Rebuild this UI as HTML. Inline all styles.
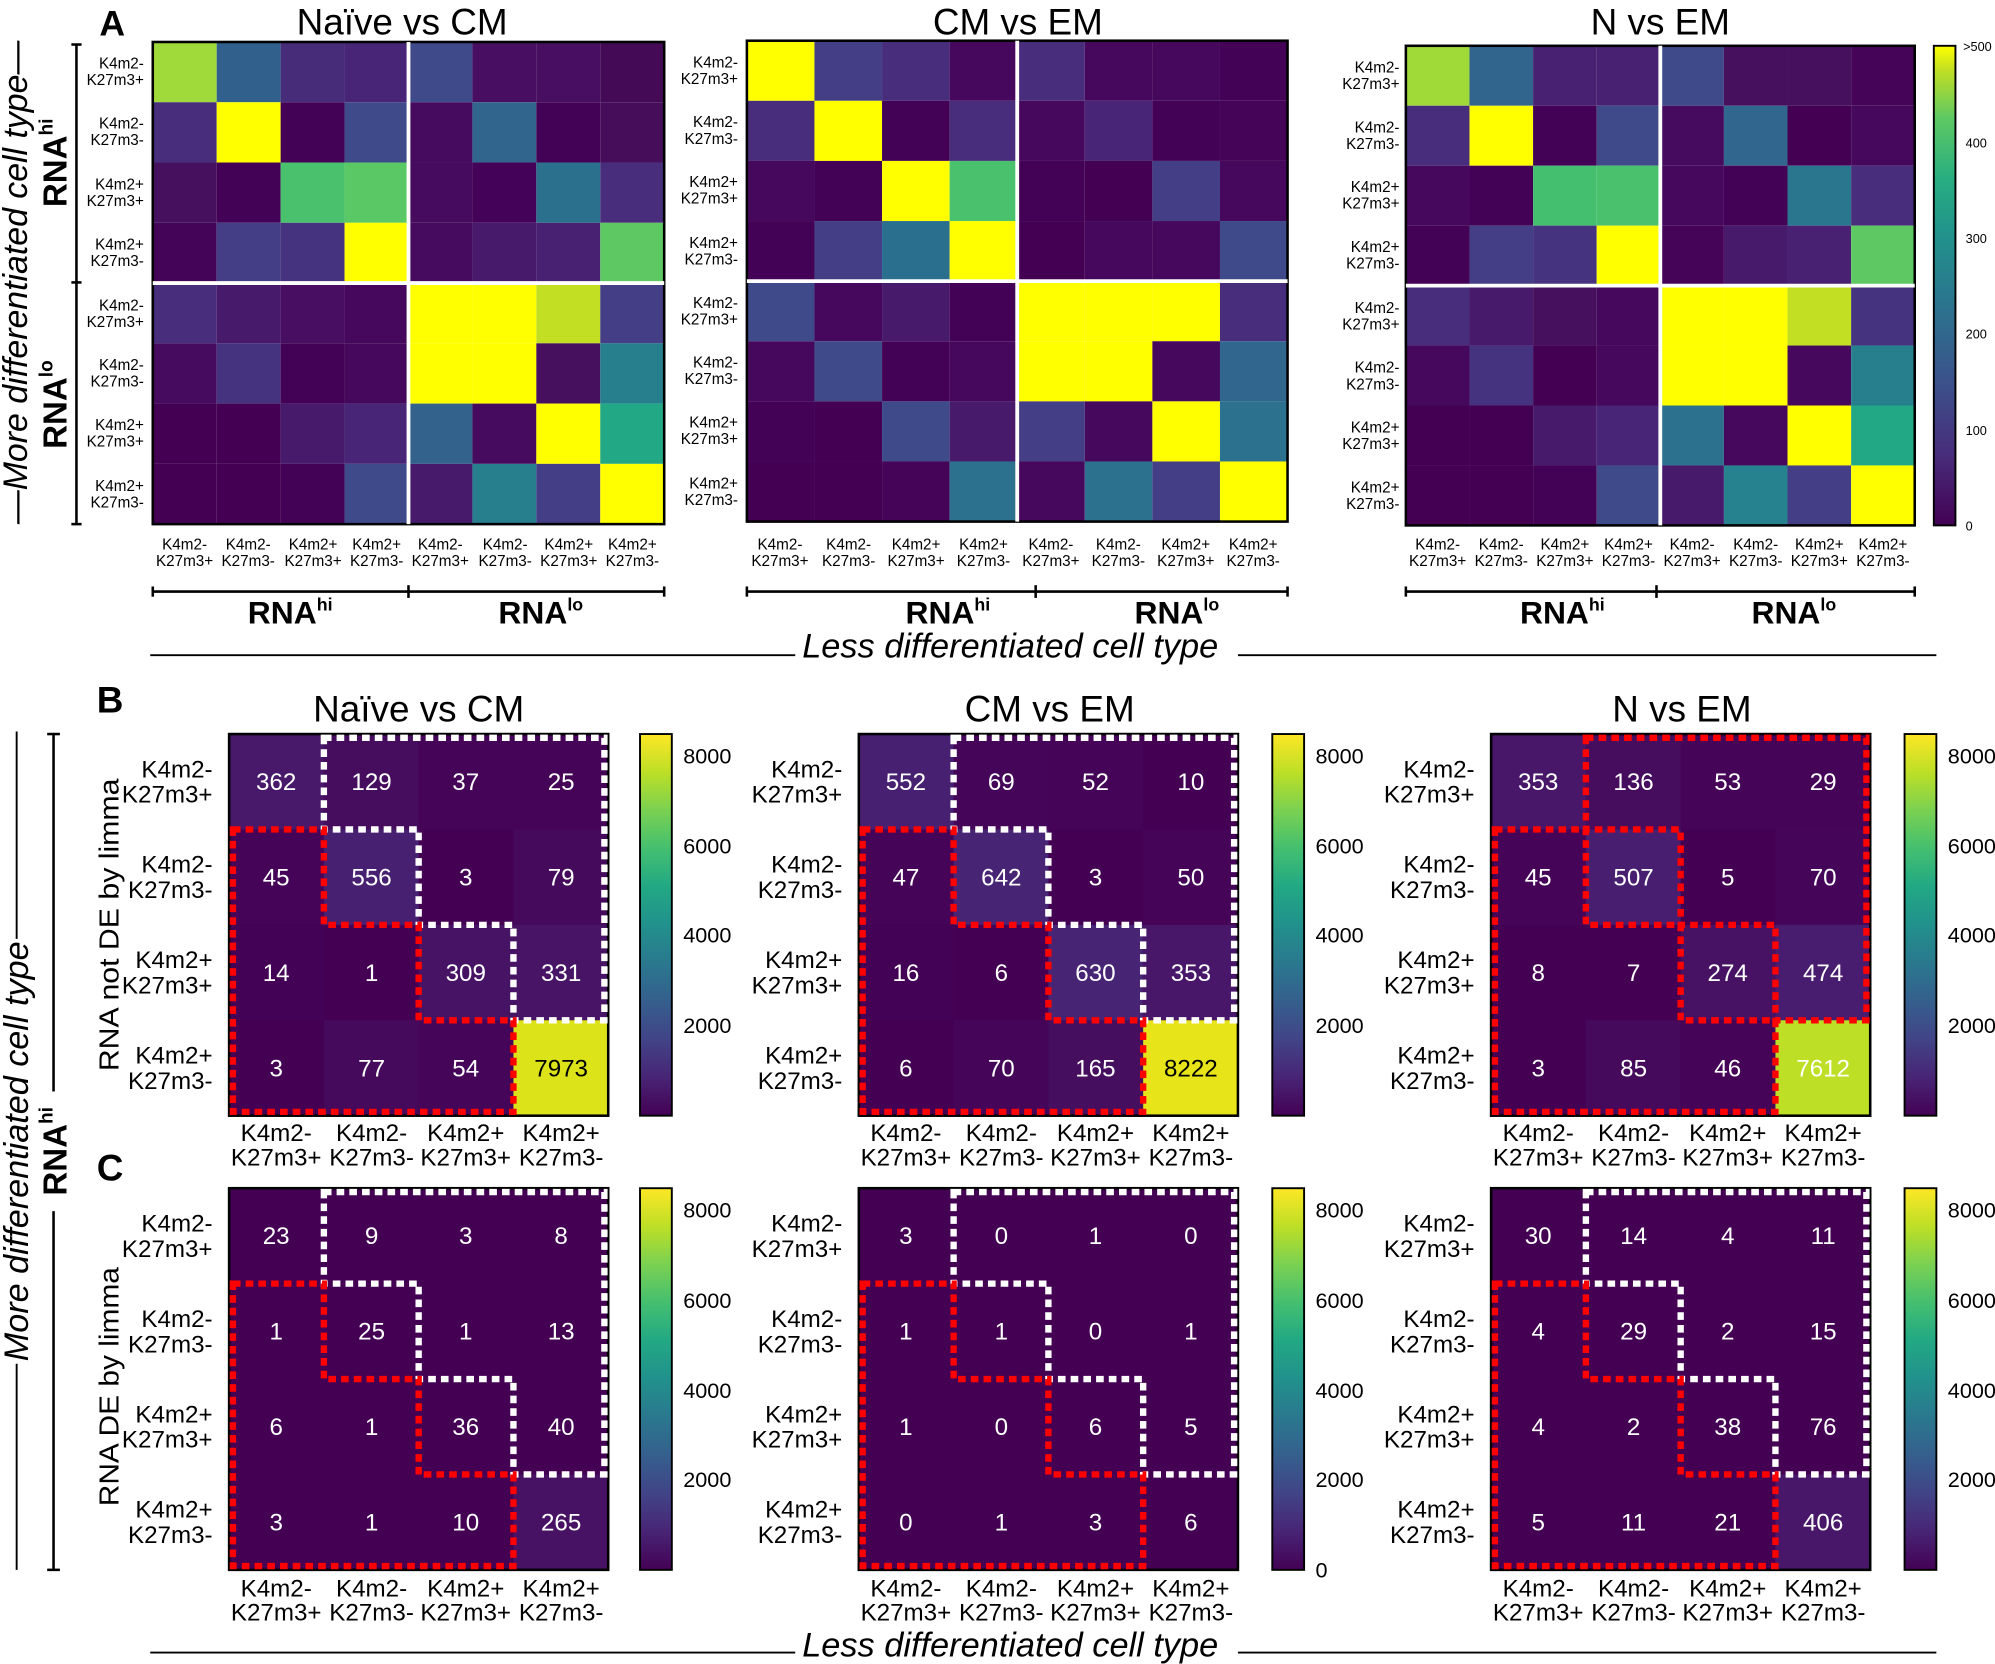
<!DOCTYPE html>
<html><head><meta charset="utf-8"><style>
body{margin:0;background:#fff}
svg{display:block}
text{font-family:"Liberation Sans",Arial,sans-serif;fill:#000}
.rl{font-size:12px;text-anchor:end}
.cl{font-size:12px;text-anchor:middle}
.rb{font-size:19px;text-anchor:end}
.cb{font-size:19px;text-anchor:middle}
.v text{font-size:19px;fill:#fff;text-anchor:middle}
.v text.k{fill:#000}
.ti{font-size:29px;text-anchor:middle}
.it{font-size:27px;font-style:italic}
.bd{font-weight:bold}
.ct{font-size:17px}
</style></head><body>
<svg width="1995" height="1664" viewBox="0 0 1568 1308" xmlns="http://www.w3.org/2000/svg">
<defs>
<linearGradient id="vir" x1="0" y1="1" x2="0" y2="0">
<stop offset="0" stop-color="#440154"/><stop offset=".1" stop-color="#482475"/><stop offset=".2" stop-color="#414487"/><stop offset=".3" stop-color="#355f8d"/><stop offset=".4" stop-color="#2a788e"/><stop offset=".5" stop-color="#21918c"/><stop offset=".6" stop-color="#22a884"/><stop offset=".7" stop-color="#44bf70"/><stop offset=".8" stop-color="#7ad151"/><stop offset=".9" stop-color="#bddf26"/><stop offset="1" stop-color="#fde725"/>
</linearGradient>
<linearGradient id="virA" x1="0" y1="1" x2="0" y2="0">
<stop offset="0" stop-color="#440154"/><stop offset=".15" stop-color="#472d7b"/><stop offset=".3" stop-color="#3b528b"/><stop offset=".45" stop-color="#2c728e"/><stop offset=".6" stop-color="#21918c"/><stop offset=".72" stop-color="#27ad81"/><stop offset=".85" stop-color="#5ec962"/><stop offset=".95" stop-color="#c2df23"/><stop offset="1" stop-color="#ffff00"/>
</linearGradient>
</defs>

<!-- ===== PANEL A ===== -->
<text x="78" y="28" class="bd" font-size="28">A</text>
<text x="316" y="27" class="ti">Naïve vs CM</text>
<text x="800" y="27" class="ti">CM vs EM</text>
<text x="1305" y="27" class="ti">N vs EM</text>

<!-- A1 -->
<g transform="translate(120,33) scale(50.25,47.375)">
<rect x="0" y="0" width="1" height="1" fill="#9fda3a"/><rect x="1" y="0" width="1" height="1" fill="#31608d"/><rect x="2" y="0" width="1" height="1" fill="#472c7a"/><rect x="3" y="0" width="1" height="1" fill="#482576"/><rect x="4" y="0" width="1" height="1" fill="#3e4a89"/><rect x="5" y="0" width="1" height="1" fill="#470e61"/><rect x="6" y="0" width="1" height="1" fill="#470e61"/><rect x="7" y="0" width="1" height="1" fill="#440a56"/>
<rect x="0" y="1" width="1" height="1" fill="#472d7b"/><rect x="1" y="1" width="1" height="1" fill="#ffff00"/><rect x="2" y="1" width="1" height="1" fill="#440256"/><rect x="3" y="1" width="1" height="1" fill="#3e4a89"/><rect x="4" y="1" width="1" height="1" fill="#460b5e"/><rect x="5" y="1" width="1" height="1" fill="#31658e"/><rect x="6" y="1" width="1" height="1" fill="#440256"/><rect x="7" y="1" width="1" height="1" fill="#450d5a"/>
<rect x="0" y="2" width="1" height="1" fill="#46105f"/><rect x="1" y="2" width="1" height="1" fill="#440256"/><rect x="2" y="2" width="1" height="1" fill="#4ac16d"/><rect x="3" y="2" width="1" height="1" fill="#5ac864"/><rect x="4" y="2" width="1" height="1" fill="#460b5e"/><rect x="5" y="2" width="1" height="1" fill="#440358"/><rect x="6" y="2" width="1" height="1" fill="#2b718e"/><rect x="7" y="2" width="1" height="1" fill="#472d7b"/>
<rect x="0" y="3" width="1" height="1" fill="#440558"/><rect x="1" y="3" width="1" height="1" fill="#433e85"/><rect x="2" y="3" width="1" height="1" fill="#46337f"/><rect x="3" y="3" width="1" height="1" fill="#ffff00"/><rect x="4" y="3" width="1" height="1" fill="#460b5e"/><rect x="5" y="3" width="1" height="1" fill="#481a6c"/><rect x="6" y="3" width="1" height="1" fill="#482173"/><rect x="7" y="3" width="1" height="1" fill="#5ec962"/>
<rect x="0" y="4" width="1" height="1" fill="#472d7b"/><rect x="1" y="4" width="1" height="1" fill="#481a6c"/><rect x="2" y="4" width="1" height="1" fill="#470e61"/><rect x="3" y="4" width="1" height="1" fill="#46085c"/><rect x="4" y="4" width="1" height="1" fill="#ffff00"/><rect x="5" y="4" width="1" height="1" fill="#ffff00"/><rect x="6" y="4" width="1" height="1" fill="#c2df23"/><rect x="7" y="4" width="1" height="1" fill="#433e85"/>
<rect x="0" y="5" width="1" height="1" fill="#460b5e"/><rect x="1" y="5" width="1" height="1" fill="#46337f"/><rect x="2" y="5" width="1" height="1" fill="#440256"/><rect x="3" y="5" width="1" height="1" fill="#46085c"/><rect x="4" y="5" width="1" height="1" fill="#ffff00"/><rect x="5" y="5" width="1" height="1" fill="#ffff00"/><rect x="6" y="5" width="1" height="1" fill="#46105f"/><rect x="7" y="5" width="1" height="1" fill="#277f8e"/>
<rect x="0" y="6" width="1" height="1" fill="#440154"/><rect x="1" y="6" width="1" height="1" fill="#440154"/><rect x="2" y="6" width="1" height="1" fill="#481a6c"/><rect x="3" y="6" width="1" height="1" fill="#482576"/><rect x="4" y="6" width="1" height="1" fill="#33628d"/><rect x="5" y="6" width="1" height="1" fill="#460b5e"/><rect x="6" y="6" width="1" height="1" fill="#ffff00"/><rect x="7" y="6" width="1" height="1" fill="#22a884"/>
<rect x="0" y="7" width="1" height="1" fill="#440154"/><rect x="1" y="7" width="1" height="1" fill="#440154"/><rect x="2" y="7" width="1" height="1" fill="#440256"/><rect x="3" y="7" width="1" height="1" fill="#3e4a89"/><rect x="4" y="7" width="1" height="1" fill="#481a6c"/><rect x="5" y="7" width="1" height="1" fill="#277f8e"/><rect x="6" y="7" width="1" height="1" fill="#433e85"/><rect x="7" y="7" width="1" height="1" fill="#ffff00"/>
</g>
<rect x="120" y="33" width="402" height="379" fill="none" stroke="#000" stroke-width="2"/>
<line x1="321" y1="33" x2="321" y2="412" stroke="#fff" stroke-width="3"/>
<line x1="120" y1="222.5" x2="522" y2="222.5" stroke="#fff" stroke-width="3"/>

<!-- A2 -->
<g transform="translate(587,32) scale(53.125,47.25)">
<rect x="0" y="0" width="1" height="1" fill="#ffff00"/><rect x="1" y="0" width="1" height="1" fill="#433e85"/><rect x="2" y="0" width="1" height="1" fill="#472d7b"/><rect x="3" y="0" width="1" height="1" fill="#46085c"/><rect x="4" y="0" width="1" height="1" fill="#472d7b"/><rect x="5" y="0" width="1" height="1" fill="#46085c"/><rect x="6" y="0" width="1" height="1" fill="#46085c"/><rect x="7" y="0" width="1" height="1" fill="#440256"/>
<rect x="0" y="1" width="1" height="1" fill="#472d7b"/><rect x="1" y="1" width="1" height="1" fill="#ffff00"/><rect x="2" y="1" width="1" height="1" fill="#440256"/><rect x="3" y="1" width="1" height="1" fill="#472d7b"/><rect x="4" y="1" width="1" height="1" fill="#46085c"/><rect x="5" y="1" width="1" height="1" fill="#482576"/><rect x="6" y="1" width="1" height="1" fill="#440256"/><rect x="7" y="1" width="1" height="1" fill="#450457"/>
<rect x="0" y="2" width="1" height="1" fill="#46085c"/><rect x="1" y="2" width="1" height="1" fill="#440256"/><rect x="2" y="2" width="1" height="1" fill="#ffff00"/><rect x="3" y="2" width="1" height="1" fill="#4ac16d"/><rect x="4" y="2" width="1" height="1" fill="#440256"/><rect x="5" y="2" width="1" height="1" fill="#440154"/><rect x="6" y="2" width="1" height="1" fill="#433e85"/><rect x="7" y="2" width="1" height="1" fill="#46085c"/>
<rect x="0" y="3" width="1" height="1" fill="#440256"/><rect x="1" y="3" width="1" height="1" fill="#433e85"/><rect x="2" y="3" width="1" height="1" fill="#2a6f8e"/><rect x="3" y="3" width="1" height="1" fill="#ffff00"/><rect x="4" y="3" width="1" height="1" fill="#440154"/><rect x="5" y="3" width="1" height="1" fill="#46085c"/><rect x="6" y="3" width="1" height="1" fill="#46085c"/><rect x="7" y="3" width="1" height="1" fill="#3e4a89"/>
<rect x="0" y="4" width="1" height="1" fill="#3e4a89"/><rect x="1" y="4" width="1" height="1" fill="#46085c"/><rect x="2" y="4" width="1" height="1" fill="#481a6c"/><rect x="3" y="4" width="1" height="1" fill="#440256"/><rect x="4" y="4" width="1" height="1" fill="#ffff00"/><rect x="5" y="4" width="1" height="1" fill="#ffff00"/><rect x="6" y="4" width="1" height="1" fill="#ffff00"/><rect x="7" y="4" width="1" height="1" fill="#472d7b"/>
<rect x="0" y="5" width="1" height="1" fill="#46085c"/><rect x="1" y="5" width="1" height="1" fill="#3e4a89"/><rect x="2" y="5" width="1" height="1" fill="#440256"/><rect x="3" y="5" width="1" height="1" fill="#46085c"/><rect x="4" y="5" width="1" height="1" fill="#ffff00"/><rect x="5" y="5" width="1" height="1" fill="#ffff00"/><rect x="6" y="5" width="1" height="1" fill="#46085c"/><rect x="7" y="5" width="1" height="1" fill="#31668e"/>
<rect x="0" y="6" width="1" height="1" fill="#440256"/><rect x="1" y="6" width="1" height="1" fill="#440154"/><rect x="2" y="6" width="1" height="1" fill="#3e4a89"/><rect x="3" y="6" width="1" height="1" fill="#481a6c"/><rect x="4" y="6" width="1" height="1" fill="#433e85"/><rect x="5" y="6" width="1" height="1" fill="#46085c"/><rect x="6" y="6" width="1" height="1" fill="#ffff00"/><rect x="7" y="6" width="1" height="1" fill="#2c728e"/>
<rect x="0" y="7" width="1" height="1" fill="#440154"/><rect x="1" y="7" width="1" height="1" fill="#440154"/><rect x="2" y="7" width="1" height="1" fill="#450457"/><rect x="3" y="7" width="1" height="1" fill="#2c728e"/><rect x="4" y="7" width="1" height="1" fill="#46085c"/><rect x="5" y="7" width="1" height="1" fill="#2c728e"/><rect x="6" y="7" width="1" height="1" fill="#433e85"/><rect x="7" y="7" width="1" height="1" fill="#ffff00"/>
</g>
<rect x="587" y="32" width="425" height="378" fill="none" stroke="#000" stroke-width="2"/>
<line x1="799.5" y1="32" x2="799.5" y2="410" stroke="#fff" stroke-width="3"/>
<line x1="587" y1="221" x2="1012" y2="221" stroke="#fff" stroke-width="3"/>

<!-- A3 -->
<g transform="translate(1105,36) scale(50,47.125)">
<rect x="0" y="0" width="1" height="1" fill="#a0da39"/><rect x="1" y="0" width="1" height="1" fill="#31658e"/><rect x="2" y="0" width="1" height="1" fill="#482173"/><rect x="3" y="0" width="1" height="1" fill="#482173"/><rect x="4" y="0" width="1" height="1" fill="#3e4a89"/><rect x="5" y="0" width="1" height="1" fill="#46105f"/><rect x="6" y="0" width="1" height="1" fill="#46105f"/><rect x="7" y="0" width="1" height="1" fill="#450457"/>
<rect x="0" y="1" width="1" height="1" fill="#472d7b"/><rect x="1" y="1" width="1" height="1" fill="#ffff00"/><rect x="2" y="1" width="1" height="1" fill="#440256"/><rect x="3" y="1" width="1" height="1" fill="#3e4a89"/><rect x="4" y="1" width="1" height="1" fill="#460b5e"/><rect x="5" y="1" width="1" height="1" fill="#31668e"/><rect x="6" y="1" width="1" height="1" fill="#440154"/><rect x="7" y="1" width="1" height="1" fill="#46085c"/>
<rect x="0" y="2" width="1" height="1" fill="#46085c"/><rect x="1" y="2" width="1" height="1" fill="#440256"/><rect x="2" y="2" width="1" height="1" fill="#44bf70"/><rect x="3" y="2" width="1" height="1" fill="#4ac16d"/><rect x="4" y="2" width="1" height="1" fill="#46085c"/><rect x="5" y="2" width="1" height="1" fill="#440256"/><rect x="6" y="2" width="1" height="1" fill="#2a768e"/><rect x="7" y="2" width="1" height="1" fill="#472d7b"/>
<rect x="0" y="3" width="1" height="1" fill="#440256"/><rect x="1" y="3" width="1" height="1" fill="#433e85"/><rect x="2" y="3" width="1" height="1" fill="#46337f"/><rect x="3" y="3" width="1" height="1" fill="#ffff00"/><rect x="4" y="3" width="1" height="1" fill="#450457"/><rect x="5" y="3" width="1" height="1" fill="#481a6c"/><rect x="6" y="3" width="1" height="1" fill="#482173"/><rect x="7" y="3" width="1" height="1" fill="#5ec962"/>
<rect x="0" y="4" width="1" height="1" fill="#472d7b"/><rect x="1" y="4" width="1" height="1" fill="#481a6c"/><rect x="2" y="4" width="1" height="1" fill="#46105f"/><rect x="3" y="4" width="1" height="1" fill="#46085c"/><rect x="4" y="4" width="1" height="1" fill="#ffff00"/><rect x="5" y="4" width="1" height="1" fill="#ffff00"/><rect x="6" y="4" width="1" height="1" fill="#c2df23"/><rect x="7" y="4" width="1" height="1" fill="#46337f"/>
<rect x="0" y="5" width="1" height="1" fill="#46085c"/><rect x="1" y="5" width="1" height="1" fill="#46337f"/><rect x="2" y="5" width="1" height="1" fill="#440154"/><rect x="3" y="5" width="1" height="1" fill="#46085c"/><rect x="4" y="5" width="1" height="1" fill="#ffff00"/><rect x="5" y="5" width="1" height="1" fill="#ffff00"/><rect x="6" y="5" width="1" height="1" fill="#46085c"/><rect x="7" y="5" width="1" height="1" fill="#277f8e"/>
<rect x="0" y="6" width="1" height="1" fill="#440154"/><rect x="1" y="6" width="1" height="1" fill="#440154"/><rect x="2" y="6" width="1" height="1" fill="#481a6c"/><rect x="3" y="6" width="1" height="1" fill="#482576"/><rect x="4" y="6" width="1" height="1" fill="#2c718e"/><rect x="5" y="6" width="1" height="1" fill="#46085c"/><rect x="6" y="6" width="1" height="1" fill="#ffff00"/><rect x="7" y="6" width="1" height="1" fill="#22a884"/>
<rect x="0" y="7" width="1" height="1" fill="#440154"/><rect x="1" y="7" width="1" height="1" fill="#440154"/><rect x="2" y="7" width="1" height="1" fill="#440256"/><rect x="3" y="7" width="1" height="1" fill="#3e4a89"/><rect x="4" y="7" width="1" height="1" fill="#481a6c"/><rect x="5" y="7" width="1" height="1" fill="#26828e"/><rect x="6" y="7" width="1" height="1" fill="#433e85"/><rect x="7" y="7" width="1" height="1" fill="#ffff00"/>
</g>
<rect x="1105" y="36" width="400" height="377" fill="none" stroke="#000" stroke-width="2"/>
<line x1="1305" y1="36" x2="1305" y2="413" stroke="#fff" stroke-width="3"/>
<line x1="1105" y1="224.5" x2="1505" y2="224.5" stroke="#fff" stroke-width="3"/>

<!-- A colorbar -->
<rect x="1520" y="36" width="17" height="377" fill="url(#virA)" stroke="#000" stroke-width="1.5"/>
<g font-size="10">
<text x="1543" y="40">&gt;500</text><text x="1545" y="116">400</text><text x="1545" y="191">300</text><text x="1545" y="266">200</text><text x="1545" y="342">100</text><text x="1545" y="417">0</text>
</g>

<!-- A row labels -->
<g class="rl">
<text x="113" y="54">K4m2-</text><text x="113" y="67">K27m3+</text>
<text x="113" y="101">K4m2-</text><text x="113" y="114">K27m3-</text>
<text x="113" y="149">K4m2+</text><text x="113" y="162">K27m3+</text>
<text x="113" y="196">K4m2+</text><text x="113" y="209">K27m3-</text>
<text x="113" y="244">K4m2-</text><text x="113" y="257">K27m3+</text>
<text x="113" y="291">K4m2-</text><text x="113" y="304">K27m3-</text>
<text x="113" y="338">K4m2+</text><text x="113" y="351">K27m3+</text>
<text x="113" y="386">K4m2+</text><text x="113" y="399">K27m3-</text>

<text x="580" y="53">K4m2-</text><text x="580" y="66">K27m3+</text>
<text x="580" y="100">K4m2-</text><text x="580" y="113">K27m3-</text>
<text x="580" y="147">K4m2+</text><text x="580" y="160">K27m3+</text>
<text x="580" y="195">K4m2+</text><text x="580" y="208">K27m3-</text>
<text x="580" y="242">K4m2-</text><text x="580" y="255">K27m3+</text>
<text x="580" y="289">K4m2-</text><text x="580" y="302">K27m3-</text>
<text x="580" y="336">K4m2+</text><text x="580" y="349">K27m3+</text>
<text x="580" y="384">K4m2+</text><text x="580" y="397">K27m3-</text>

<text x="1100" y="57">K4m2-</text><text x="1100" y="70">K27m3+</text>
<text x="1100" y="104">K4m2-</text><text x="1100" y="117">K27m3-</text>
<text x="1100" y="151">K4m2+</text><text x="1100" y="164">K27m3+</text>
<text x="1100" y="198">K4m2+</text><text x="1100" y="211">K27m3-</text>
<text x="1100" y="246">K4m2-</text><text x="1100" y="259">K27m3+</text>
<text x="1100" y="293">K4m2-</text><text x="1100" y="306">K27m3-</text>
<text x="1100" y="340">K4m2+</text><text x="1100" y="353">K27m3+</text>
<text x="1100" y="387">K4m2+</text><text x="1100" y="400">K27m3-</text>
</g>

<!-- A column labels -->
<g class="cl">
<text x="145" y="432">K4m2-</text><text x="145" y="445">K27m3+</text>
<text x="195" y="432">K4m2-</text><text x="195" y="445">K27m3-</text>
<text x="246" y="432">K4m2+</text><text x="246" y="445">K27m3+</text>
<text x="296" y="432">K4m2+</text><text x="296" y="445">K27m3-</text>
<text x="346" y="432">K4m2-</text><text x="346" y="445">K27m3+</text>
<text x="397" y="432">K4m2-</text><text x="397" y="445">K27m3-</text>
<text x="447" y="432">K4m2+</text><text x="447" y="445">K27m3+</text>
<text x="497" y="432">K4m2+</text><text x="497" y="445">K27m3-</text>

<text x="613" y="432">K4m2-</text><text x="613" y="445">K27m3+</text>
<text x="667" y="432">K4m2-</text><text x="667" y="445">K27m3-</text>
<text x="720" y="432">K4m2+</text><text x="720" y="445">K27m3+</text>
<text x="773" y="432">K4m2+</text><text x="773" y="445">K27m3-</text>
<text x="826" y="432">K4m2-</text><text x="826" y="445">K27m3+</text>
<text x="879" y="432">K4m2-</text><text x="879" y="445">K27m3-</text>
<text x="932" y="432">K4m2+</text><text x="932" y="445">K27m3+</text>
<text x="985" y="432">K4m2+</text><text x="985" y="445">K27m3-</text>

<text x="1130" y="432">K4m2-</text><text x="1130" y="445">K27m3+</text>
<text x="1180" y="432">K4m2-</text><text x="1180" y="445">K27m3-</text>
<text x="1230" y="432">K4m2+</text><text x="1230" y="445">K27m3+</text>
<text x="1280" y="432">K4m2+</text><text x="1280" y="445">K27m3-</text>
<text x="1330" y="432">K4m2-</text><text x="1330" y="445">K27m3+</text>
<text x="1380" y="432">K4m2-</text><text x="1380" y="445">K27m3-</text>
<text x="1430" y="432">K4m2+</text><text x="1430" y="445">K27m3+</text>
<text x="1480" y="432">K4m2+</text><text x="1480" y="445">K27m3-</text>
</g>

<!-- A brackets bottom -->
<g stroke="#000" stroke-width="2">
<line x1="120" y1="465" x2="522" y2="465"/><line x1="120" y1="461" x2="120" y2="469"/><line x1="321" y1="460" x2="321" y2="470"/><line x1="522" y1="461" x2="522" y2="469"/>
<line x1="587" y1="465" x2="1012" y2="465"/><line x1="587" y1="461" x2="587" y2="469"/><line x1="814" y1="460" x2="814" y2="470"/><line x1="1012" y1="461" x2="1012" y2="469"/>
<line x1="1105" y1="465" x2="1505" y2="465"/><line x1="1105" y1="461" x2="1105" y2="469"/><line x1="1302" y1="460" x2="1302" y2="470"/><line x1="1505" y1="461" x2="1505" y2="469"/>
</g>
<g class="bd" font-size="25" text-anchor="middle">
<text x="228" y="490">RNA<tspan font-size="14" dy="-10">hi</tspan></text>
<text x="425" y="490">RNA<tspan font-size="14" dy="-10">lo</tspan></text>
<text x="745" y="490">RNA<tspan font-size="14" dy="-10">hi</tspan></text>
<text x="925" y="490">RNA<tspan font-size="14" dy="-10">lo</tspan></text>
<text x="1228" y="490">RNA<tspan font-size="14" dy="-10">hi</tspan></text>
<text x="1410" y="490">RNA<tspan font-size="14" dy="-10">lo</tspan></text>
</g>
<text x="794" y="517" class="it" text-anchor="middle">Less differentiated cell type</text>
<line x1="118" y1="515" x2="625" y2="515" stroke="#000" stroke-width="1.5"/>
<line x1="973" y1="515" x2="1522" y2="515" stroke="#000" stroke-width="1.5"/>

<!-- A left labels -->
<text transform="translate(21,222) rotate(-90)" class="it" font-size="25" text-anchor="middle" textLength="380" lengthAdjust="spacingAndGlyphs">—More differentiated cell type—</text>
<text transform="translate(52,128) rotate(-90)" class="bd" font-size="26" text-anchor="middle">RNA<tspan font-size="15" dy="-11">hi</tspan></text>
<text transform="translate(52,318) rotate(-90)" class="bd" font-size="26" text-anchor="middle">RNA<tspan font-size="15" dy="-11">lo</tspan></text>
<g stroke="#000" stroke-width="2">
<line x1="60" y1="35" x2="60" y2="412"/><line x1="56" y1="35" x2="64" y2="35"/><line x1="56" y1="222" x2="64" y2="222"/><line x1="56" y1="412" x2="64" y2="412"/>
</g>

<!-- ===== PANEL B / C ===== -->
<text x="76" y="560" class="bd" font-size="29">B</text>
<text x="76" y="928" class="bd" font-size="29">C</text>
<text x="329" y="567" class="ti">Naïve vs CM</text>
<text x="825" y="567" class="ti">CM vs EM</text>
<text x="1322" y="567" class="ti">N vs EM</text>

<!-- B1 -->
<g transform="translate(180,577) scale(74.5,75)">
<rect width="4" height="4" fill="#440154"/>
<rect x="0" y="0" width="1" height="1" fill="#48186a"/><rect x="1" y="0" width="1" height="1" fill="#460d5f"/><rect x="2" y="0" width="1" height="1" fill="#450457"/><rect x="3" y="0" width="1" height="1" fill="#450457"/>
<rect x="0" y="1" width="1" height="1" fill="#450457"/><rect x="1" y="1" width="1" height="1" fill="#482071"/><rect x="3" y="1" width="1" height="1" fill="#450a5c"/>
<rect x="0" y="2" width="1" height="1" fill="#440256"/><rect x="2" y="2" width="1" height="1" fill="#471365"/><rect x="3" y="2" width="1" height="1" fill="#471466"/>
<rect x="1" y="3" width="1" height="1" fill="#450a5c"/><rect x="2" y="3" width="1" height="1" fill="#45065a"/><rect x="3" y="3" width="1" height="1" fill="#dce319"/>
</g>
<!-- B2 -->
<g transform="translate(675,577) scale(74.5,75)">
<rect width="4" height="4" fill="#440154"/>
<rect x="0" y="0" width="1" height="1" fill="#482071"/><rect x="1" y="0" width="1" height="1" fill="#45065a"/><rect x="2" y="0" width="1" height="1" fill="#450457"/>
<rect x="0" y="1" width="1" height="1" fill="#450457"/><rect x="1" y="1" width="1" height="1" fill="#482475"/><rect x="3" y="1" width="1" height="1" fill="#450457"/>
<rect x="0" y="2" width="1" height="1" fill="#440256"/><rect x="2" y="2" width="1" height="1" fill="#482475"/><rect x="3" y="2" width="1" height="1" fill="#481769"/>
<rect x="1" y="3" width="1" height="1" fill="#45065a"/><rect x="2" y="3" width="1" height="1" fill="#460e5f"/><rect x="3" y="3" width="1" height="1" fill="#e7e419"/>
</g>
<!-- B3 -->
<g transform="translate(1172,577) scale(74.5,75)">
<rect width="4" height="4" fill="#440154"/>
<rect x="0" y="0" width="1" height="1" fill="#481769"/><rect x="1" y="0" width="1" height="1" fill="#460d5f"/><rect x="2" y="0" width="1" height="1" fill="#450457"/><rect x="3" y="0" width="1" height="1" fill="#450457"/>
<rect x="0" y="1" width="1" height="1" fill="#450457"/><rect x="1" y="1" width="1" height="1" fill="#481e70"/><rect x="3" y="1" width="1" height="1" fill="#45065a"/>
<rect x="2" y="2" width="1" height="1" fill="#471164"/><rect x="3" y="2" width="1" height="1" fill="#481c6e"/>
<rect x="1" y="3" width="1" height="1" fill="#450a5c"/><rect x="2" y="3" width="1" height="1" fill="#450457"/><rect x="3" y="3" width="1" height="1" fill="#bddf26"/>
</g>
<!-- C -->
<rect x="180" y="934" width="298" height="300" fill="#440154"/>
<rect x="403.5" y="1159" width="74.5" height="75" fill="#471164"/>
<rect x="675" y="934" width="298" height="300" fill="#440154"/>
<rect x="1172" y="934" width="298" height="300" fill="#440154"/>
<rect x="1395.5" y="1159" width="74.5" height="75" fill="#481769"/>

<g fill="none" stroke="#000" stroke-width="2">
<rect x="180" y="577" width="298" height="300"/><rect x="675" y="577" width="298" height="300"/><rect x="1172" y="577" width="298" height="300"/>
<rect x="180" y="934" width="298" height="300"/><rect x="675" y="934" width="298" height="300"/><rect x="1172" y="934" width="298" height="300"/>
</g>

<!-- dotted outlines -->
<g fill="none" stroke-width="5" stroke-dasharray="6,4">
<path d="M254.5,580 H475 V802 H403.5 V727 H329 V652 H254.5 Z" stroke="#fff"/>
<path d="M183,652 H254.5 V727 H329 V802 H403.5 V874 H183 Z" stroke="#f00"/>
<path d="M749.5,580 H970 V802 H898.5 V727 H824 V652 H749.5 Z" stroke="#fff"/>
<path d="M678,652 H749.5 V727 H824 V802 H898.5 V874 H678 Z" stroke="#f00"/>
<path d="M1246.5,580 H1467 V802 H1395.5 V727 H1321 V652 H1246.5 Z" stroke="#f00"/>
<path d="M1175,652 H1246.5 V727 H1321 V802 H1395.5 V874 H1175 Z" stroke="#f00"/>

<path d="M254.5,937 H475 V1159 H403.5 V1084 H329 V1009 H254.5 Z" stroke="#fff"/>
<path d="M183,1009 H254.5 V1084 H329 V1159 H403.5 V1231 H183 Z" stroke="#f00"/>
<path d="M749.5,937 H970 V1159 H898.5 V1084 H824 V1009 H749.5 Z" stroke="#fff"/>
<path d="M678,1009 H749.5 V1084 H824 V1159 H898.5 V1231 H678 Z" stroke="#f00"/>
<path d="M1246.5,937 H1467 V1159 H1395.5 V1084 H1321 V1009 H1246.5 Z" stroke="#fff"/>
<path d="M1175,1009 H1246.5 V1084 H1321 V1159 H1395.5 V1231 H1175 Z" stroke="#f00"/>
</g>

<!-- values -->
<g class="v">
<text x="217" y="621">362</text><text x="292" y="621">129</text><text x="366" y="621">37</text><text x="441" y="621">25</text>
<text x="217" y="696">45</text><text x="292" y="696">556</text><text x="366" y="696">3</text><text x="441" y="696">79</text>
<text x="217" y="771">14</text><text x="292" y="771">1</text><text x="366" y="771">309</text><text x="441" y="771">331</text>
<text x="217" y="846">3</text><text x="292" y="846">77</text><text x="366" y="846">54</text><text x="441" y="846" class="k">7973</text>

<text x="712" y="621">552</text><text x="787" y="621">69</text><text x="861" y="621">52</text><text x="936" y="621">10</text>
<text x="712" y="696">47</text><text x="787" y="696">642</text><text x="861" y="696">3</text><text x="936" y="696">50</text>
<text x="712" y="771">16</text><text x="787" y="771">6</text><text x="861" y="771">630</text><text x="936" y="771">353</text>
<text x="712" y="846">6</text><text x="787" y="846">70</text><text x="861" y="846">165</text><text x="936" y="846" class="k">8222</text>

<text x="1209" y="621">353</text><text x="1284" y="621">136</text><text x="1358" y="621">53</text><text x="1433" y="621">29</text>
<text x="1209" y="696">45</text><text x="1284" y="696">507</text><text x="1358" y="696">5</text><text x="1433" y="696">70</text>
<text x="1209" y="771">8</text><text x="1284" y="771">7</text><text x="1358" y="771">274</text><text x="1433" y="771">474</text>
<text x="1209" y="846">3</text><text x="1284" y="846">85</text><text x="1358" y="846">46</text><text x="1433" y="846">7612</text>

<text x="217" y="978">23</text><text x="292" y="978">9</text><text x="366" y="978">3</text><text x="441" y="978">8</text>
<text x="217" y="1053">1</text><text x="292" y="1053">25</text><text x="366" y="1053">1</text><text x="441" y="1053">13</text>
<text x="217" y="1128">6</text><text x="292" y="1128">1</text><text x="366" y="1128">36</text><text x="441" y="1128">40</text>
<text x="217" y="1203">3</text><text x="292" y="1203">1</text><text x="366" y="1203">10</text><text x="441" y="1203">265</text>

<text x="712" y="978">3</text><text x="787" y="978">0</text><text x="861" y="978">1</text><text x="936" y="978">0</text>
<text x="712" y="1053">1</text><text x="787" y="1053">1</text><text x="861" y="1053">0</text><text x="936" y="1053">1</text>
<text x="712" y="1128">1</text><text x="787" y="1128">0</text><text x="861" y="1128">6</text><text x="936" y="1128">5</text>
<text x="712" y="1203">0</text><text x="787" y="1203">1</text><text x="861" y="1203">3</text><text x="936" y="1203">6</text>

<text x="1209" y="978">30</text><text x="1284" y="978">14</text><text x="1358" y="978">4</text><text x="1433" y="978">11</text>
<text x="1209" y="1053">4</text><text x="1284" y="1053">29</text><text x="1358" y="1053">2</text><text x="1433" y="1053">15</text>
<text x="1209" y="1128">4</text><text x="1284" y="1128">2</text><text x="1358" y="1128">38</text><text x="1433" y="1128">76</text>
<text x="1209" y="1203">5</text><text x="1284" y="1203">11</text><text x="1358" y="1203">21</text><text x="1433" y="1203">406</text>
</g>

<!-- B/C row labels -->
<g class="rb">
<text x="167" y="611">K4m2-</text><text x="167" y="631">K27m3+</text>
<text x="167" y="686">K4m2-</text><text x="167" y="706">K27m3-</text>
<text x="167" y="761">K4m2+</text><text x="167" y="781">K27m3+</text>
<text x="167" y="836">K4m2+</text><text x="167" y="856">K27m3-</text>
<text x="662" y="611">K4m2-</text><text x="662" y="631">K27m3+</text>
<text x="662" y="686">K4m2-</text><text x="662" y="706">K27m3-</text>
<text x="662" y="761">K4m2+</text><text x="662" y="781">K27m3+</text>
<text x="662" y="836">K4m2+</text><text x="662" y="856">K27m3-</text>
<text x="1159" y="611">K4m2-</text><text x="1159" y="631">K27m3+</text>
<text x="1159" y="686">K4m2-</text><text x="1159" y="706">K27m3-</text>
<text x="1159" y="761">K4m2+</text><text x="1159" y="781">K27m3+</text>
<text x="1159" y="836">K4m2+</text><text x="1159" y="856">K27m3-</text>

<text x="167" y="968">K4m2-</text><text x="167" y="988">K27m3+</text>
<text x="167" y="1043">K4m2-</text><text x="167" y="1063">K27m3-</text>
<text x="167" y="1118">K4m2+</text><text x="167" y="1138">K27m3+</text>
<text x="167" y="1193">K4m2+</text><text x="167" y="1213">K27m3-</text>
<text x="662" y="968">K4m2-</text><text x="662" y="988">K27m3+</text>
<text x="662" y="1043">K4m2-</text><text x="662" y="1063">K27m3-</text>
<text x="662" y="1118">K4m2+</text><text x="662" y="1138">K27m3+</text>
<text x="662" y="1193">K4m2+</text><text x="662" y="1213">K27m3-</text>
<text x="1159" y="968">K4m2-</text><text x="1159" y="988">K27m3+</text>
<text x="1159" y="1043">K4m2-</text><text x="1159" y="1063">K27m3-</text>
<text x="1159" y="1118">K4m2+</text><text x="1159" y="1138">K27m3+</text>
<text x="1159" y="1193">K4m2+</text><text x="1159" y="1213">K27m3-</text>
</g>

<!-- B/C column labels -->
<g class="cb">
<text x="217" y="897">K4m2-</text><text x="217" y="916">K27m3+</text>
<text x="292" y="897">K4m2-</text><text x="292" y="916">K27m3-</text>
<text x="366" y="897">K4m2+</text><text x="366" y="916">K27m3+</text>
<text x="441" y="897">K4m2+</text><text x="441" y="916">K27m3-</text>
<text x="712" y="897">K4m2-</text><text x="712" y="916">K27m3+</text>
<text x="787" y="897">K4m2-</text><text x="787" y="916">K27m3-</text>
<text x="861" y="897">K4m2+</text><text x="861" y="916">K27m3+</text>
<text x="936" y="897">K4m2+</text><text x="936" y="916">K27m3-</text>
<text x="1209" y="897">K4m2-</text><text x="1209" y="916">K27m3+</text>
<text x="1284" y="897">K4m2-</text><text x="1284" y="916">K27m3-</text>
<text x="1358" y="897">K4m2+</text><text x="1358" y="916">K27m3+</text>
<text x="1433" y="897">K4m2+</text><text x="1433" y="916">K27m3-</text>

<text x="217" y="1255">K4m2-</text><text x="217" y="1274">K27m3+</text>
<text x="292" y="1255">K4m2-</text><text x="292" y="1274">K27m3-</text>
<text x="366" y="1255">K4m2+</text><text x="366" y="1274">K27m3+</text>
<text x="441" y="1255">K4m2+</text><text x="441" y="1274">K27m3-</text>
<text x="712" y="1255">K4m2-</text><text x="712" y="1274">K27m3+</text>
<text x="787" y="1255">K4m2-</text><text x="787" y="1274">K27m3-</text>
<text x="861" y="1255">K4m2+</text><text x="861" y="1274">K27m3+</text>
<text x="936" y="1255">K4m2+</text><text x="936" y="1274">K27m3-</text>
<text x="1209" y="1255">K4m2-</text><text x="1209" y="1274">K27m3+</text>
<text x="1284" y="1255">K4m2-</text><text x="1284" y="1274">K27m3-</text>
<text x="1358" y="1255">K4m2+</text><text x="1358" y="1274">K27m3+</text>
<text x="1433" y="1255">K4m2+</text><text x="1433" y="1274">K27m3-</text>
</g>

<!-- B/C colorbars -->
<g stroke="#000" stroke-width="1.5">
<rect x="503" y="577" width="25" height="300" fill="url(#vir)"/>
<rect x="1000" y="577" width="25" height="300" fill="url(#vir)"/>
<rect x="1497" y="577" width="25" height="300" fill="url(#vir)"/>
<rect x="503" y="934" width="25" height="300" fill="url(#vir)"/>
<rect x="1000" y="934" width="25" height="300" fill="url(#vir)"/>
<rect x="1497" y="934" width="25" height="300" fill="url(#vir)"/>
</g>
<g class="ct">
<text x="537" y="600">8000</text><text x="537" y="671">6000</text><text x="537" y="741">4000</text><text x="537" y="812">2000</text>
<text x="1034" y="600">8000</text><text x="1034" y="671">6000</text><text x="1034" y="741">4000</text><text x="1034" y="812">2000</text>
<text x="1531" y="600">8000</text><text x="1531" y="671">6000</text><text x="1531" y="741">4000</text><text x="1531" y="812">2000</text>
<text x="537" y="957">8000</text><text x="537" y="1028">6000</text><text x="537" y="1099">4000</text><text x="537" y="1169">2000</text>
<text x="1034" y="957">8000</text><text x="1034" y="1028">6000</text><text x="1034" y="1099">4000</text><text x="1034" y="1169">2000</text><text x="1034" y="1240">0</text>
<text x="1531" y="957">8000</text><text x="1531" y="1028">6000</text><text x="1531" y="1099">4000</text><text x="1531" y="1169">2000</text>
</g>

<!-- left labels B/C -->
<text transform="translate(93,727) rotate(-90)" font-size="22" text-anchor="middle" textLength="230" lengthAdjust="spacingAndGlyphs">RNA not DE by limma</text>
<text transform="translate(93,1090) rotate(-90)" font-size="22" text-anchor="middle" textLength="188" lengthAdjust="spacingAndGlyphs">RNA DE by limma</text>
<text transform="translate(52,905) rotate(-90)" class="bd" font-size="26" text-anchor="middle">RNA<tspan font-size="15" dy="-11">hi</tspan></text>
<g stroke="#000" stroke-width="2">
<line x1="42" y1="577" x2="42" y2="858"/><line x1="42" y1="952" x2="42" y2="1234"/>
<line x1="37" y1="577" x2="47" y2="577"/><line x1="37" y1="1234" x2="47" y2="1234"/>
</g>
<text transform="translate(22,905) rotate(-90)" class="it" font-size="25" text-anchor="middle" textLength="330" lengthAdjust="spacingAndGlyphs">More differentiated cell type</text>
<g stroke="#000" stroke-width="1.5">
<line x1="13" y1="575" x2="13" y2="738"/><line x1="13" y1="1072" x2="13" y2="1234"/>
</g>

<text x="794" y="1302" class="it" text-anchor="middle">Less differentiated cell type</text>
<line x1="118" y1="1299" x2="625" y2="1299" stroke="#000" stroke-width="1.5"/>
<line x1="973" y1="1299" x2="1522" y2="1299" stroke="#000" stroke-width="1.5"/>
</svg>
</body></html>
